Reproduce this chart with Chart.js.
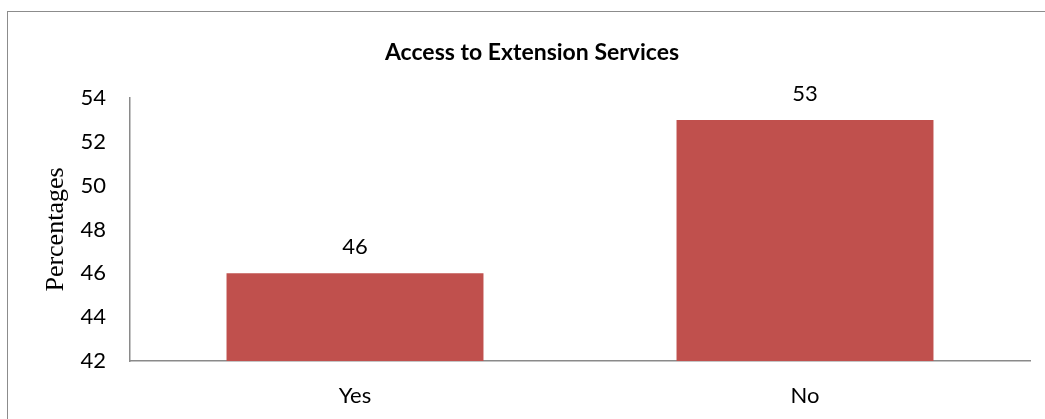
<!DOCTYPE html>
<html>
<head>
<meta charset="utf-8">
<script src="https://cdn.jsdelivr.net/npm/chart.js@4"></script>
<style>
  html, body { margin: 0; padding: 0; background: #fff; }
  #wrap { position: relative; width: 1045px; height: 419px; }
  #frame { position: absolute; left: 7px; top: 11px; width: 1100px; height: 500px;
           border-left: 1.5px solid #8c8c8c; border-top: 1.5px solid #8c8c8c; box-sizing: border-box; }
  canvas { position: absolute; left: 0; top: 0; }
</style>
</head>
<body>
<div id="wrap">
  <div id="frame"></div>
  <canvas id="c" width="1045" height="419"></canvas>
</div>
<script>
const categories = ["Yes", "No"];
const percentages = [46, 53];
const yTicks = [42, 44, 46, 48, 50, 52, 54];
const chartTitle = "Access to Extension Services";
const yTitle = "Percentages";

const valueLabels = {
  id: 'valueLabels',
  afterDatasetsDraw(chart) {
    const ctx = chart.ctx;
    ctx.save();
    ctx.font = '22px Lato';
    ctx.fillStyle = '#000';
    ctx.textAlign = 'center';
    ctx.textBaseline = 'middle';
    chart.getDatasetMeta(0).data.forEach((bar, i) => {
      ctx.fillText(String(chart.data.datasets[0].data[i]), bar.x, bar.y - 26);
    });
    ctx.restore();
  }
};

new Chart(document.getElementById('c'), {
  type: 'bar',
  data: {
    labels: categories,
    datasets: [{
      data: percentages,
      backgroundColor: '#C0504D',
      borderWidth: 0,
      categoryPercentage: 1,
      barPercentage: 0.571
    }]
  },
  options: {
    responsive: false,
    animation: false,
    layout: { padding: { left: 34, right: 15, top: 0, bottom: 0 } },
    plugins: {
      legend: { display: false },
      tooltip: { enabled: false },
      title: {
        display: true,
        text: chartTitle,
        color: '#000',
        font: { family: 'Lato', size: 23, weight: 'bold', lineHeight: 1.2 },
        padding: { top: 39, bottom: 31.4 }
      }
    },
    scales: {
      x: {
        grid: { drawOnChartArea: false, drawTicks: false },
        border: { color: '#8a8a8a', width: 1.5 },
        ticks: { color: '#000', font: { family: 'Lato', size: 22 }, padding: 22 },
        afterFit(s) { s.height = 58; }
      },
      y: {
        min: yTicks[0],
        max: yTicks[yTicks.length - 1],
        afterBuildTicks(s) { s.ticks = yTicks.map(v => ({ value: v })); },
        grid: { drawOnChartArea: false, drawTicks: false },
        border: { color: '#8a8a8a', width: 1.5 },
        ticks: { color: '#000', font: { family: 'Lato', size: 22 }, padding: 24 },
        title: {
          display: true,
          text: yTitle,
          color: '#000',
          font: { family: 'Liberation Serif', size: 26, lineHeight: 1.2 },
          padding: { top: 7, bottom: 0 }
        },
        afterFit(s) { s.width = 96; }
      }
    }
  },
  plugins: [valueLabels]
});
</script>
</body>
</html>
